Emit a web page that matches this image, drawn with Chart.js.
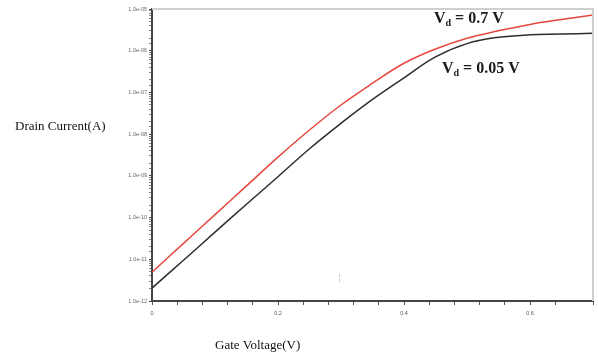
<!DOCTYPE html>
<html>
<head>
<meta charset="utf-8">
<style>
  html, body { margin: 0; padding: 0; background: #fff; }
  #wrap { width: 598px; height: 358px; }
</style>
<script src="https://cdn.jsdelivr.net/npm/chart.js@4.4.0/dist/chart.umd.min.js"></script>
</head>
<body>
<div id="wrap"><canvas id="chart" width="598" height="358"></canvas></div>
<script>
const gateVoltage = [0, 0.05, 0.1, 0.15, 0.2, 0.25, 0.3, 0.35, 0.4, 0.45, 0.5, 0.55, 0.6, 0.65, 0.7];
// Vd = 0.7 V (red)
const drainHighVd = [4.9e-12, 2.4e-11, 1.175e-10, 5.75e-10, 2.82e-9, 1.26e-8, 5.0e-8, 1.66e-7,
                     5.0e-7, 1.10e-6, 2.0e-6, 3.0e-6, 4.27e-6, 5.6e-6, 7.2e-6];
// Vd = 0.05 V (black)
const drainLowVd  = [2.04e-12, 9.5e-12, 4.47e-11, 2.09e-10, 9.55e-10, 4.47e-9, 1.82e-8, 6.8e-8,
                     2.24e-7, 7.1e-7, 1.48e-6, 2.1e-6, 2.4e-6, 2.5e-6, 2.63e-6];

const yDecades    = [1e-12, 1e-11, 1e-10, 1e-9, 1e-8, 1e-7, 1e-6, 1e-5];
const xTickValues = [0, 0.2, 0.4, 0.6];
const xTickLabels = ['0', '0.2', '0.4', '0.6'];

// ——— helpers ———
function sci(v) {
  const [m, e] = v.toExponential(1).split('e');
  const n = parseInt(e, 10);
  return m + 'e' + (n < 0 ? '-' : '+') + String(Math.abs(n)).padStart(2, '0');
}
const isDecade = v => yDecades.some(d => Math.abs(v / d - 1) < 1e-6);
const xLabelFor = v => {
  const i = xTickValues.findIndex(d => Math.abs(v - d) < 1e-6);
  return i >= 0 ? xTickLabels[i] : '';
};

const serif = '"Liberation Serif", "DejaVu Serif", serif';

function drawVd(ctx, x, y, value) {
  ctx.font = 'bold 16px ' + serif;
  ctx.fillText('V', x, y);
  const w1 = ctx.measureText('V').width;
  ctx.font = 'bold 10px ' + serif;
  ctx.fillText('d', x + w1, y + 3);
  const w2 = ctx.measureText('d').width;
  ctx.font = 'bold 16px ' + serif;
  ctx.fillText(' = ' + value + ' V', x + w1 + w2, y);
}

// frame, axis titles and curve labels
const decorations = {
  id: 'decorations',
  afterDraw(chart) {
    const { ctx, chartArea: a } = chart;
    ctx.save();
    ctx.strokeStyle = '#cfcfcf';
    ctx.lineWidth = 2;
    ctx.beginPath();
    ctx.moveTo(a.left, a.top);
    ctx.lineTo(a.right, a.top);
    ctx.lineTo(a.right, a.bottom);
    ctx.stroke();

    ctx.fillStyle = '#111';
    ctx.textBaseline = 'alphabetic';
    ctx.textAlign = 'left';
    ctx.font = '13px ' + serif;
    ctx.fillText('Drain Current(A)', 15, 130);
    ctx.fillText('Gate Voltage(V)', 215, 349);

    ctx.fillStyle = '#1a1a1a';
    drawVd(ctx, 434, 23, '0.7');
    drawVd(ctx, 442, 73, '0.05');

    ctx.fillStyle = '#bbb';
    ctx.font = '9px "DejaVu Sans"';
    ctx.fillText('¦', 338, 280);
    ctx.restore();
  }
};

new Chart(document.getElementById('chart').getContext('2d'), {
  type: 'line',
  data: {
    labels: gateVoltage,
    datasets: [
      {
        data: gateVoltage.map((x, i) => ({ x, y: drainHighVd[i] })),
        borderColor: '#e5483f',
        borderWidth: 1.5,
        pointRadius: 0,
        tension: 0.4,
        fill: false
      },
      {
        data: gateVoltage.map((x, i) => ({ x, y: drainLowVd[i] })),
        borderColor: '#2e2e2e',
        borderWidth: 1.5,
        pointRadius: 0,
        tension: 0.4,
        fill: false
      }
    ]
  },
  options: {
    responsive: false,
    animation: false,
    devicePixelRatio: 1,
    layout: { padding: { top: 9, right: 5, left: 0, bottom: 0 } },
    plugins: { legend: { display: false }, tooltip: { enabled: false } },
    scales: {
      x: {
        type: 'linear',
        min: 0,
        max: 0.7,
        afterFit: s => { s.height = 57; },
        ticks: {
          stepSize: 0.04,
          autoSkip: false,
          maxRotation: 0,
          padding: 5,
          color: '#555',
          font: { size: 5.5, family: '"Liberation Sans", Arial, sans-serif' },
          callback: v => xLabelFor(v)
        },
        grid: { drawOnChartArea: false, tickLength: 4, color: '#555', lineWidth: 1 },
        border: { color: '#444', width: 2 }
      },
      y: {
        type: 'logarithmic',
        min: 1e-12,
        max: 1e-5,
        afterFit: s => { s.width = 152; },
        ticks: {
          autoSkip: false,
          padding: 2,
          color: '#666',
          font: { size: 5.5, family: '"Liberation Sans", Arial, sans-serif' },
          callback: v => isDecade(v) ? sci(v) : ''
        },
        grid: {
          drawOnChartArea: false,
          tickLength: 3,
          lineWidth: 1,
          color: c => (c.tick && isDecade(c.tick.value)) ? '#444' : '#888'
        },
        border: { color: '#444', width: 2 }
      }
    }
  },
  plugins: [decorations]
});
</script>
</body>
</html>
